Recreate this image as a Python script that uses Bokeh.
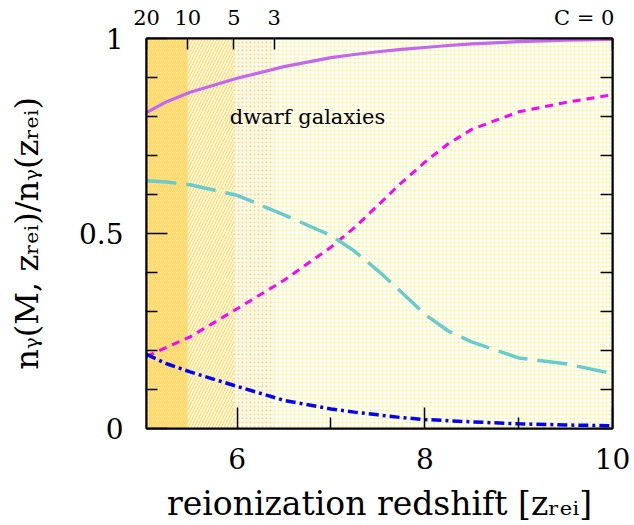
from bokeh.plotting import figure
from bokeh.models import Range1d, LinearAxis, FixedTicker, Label
from bokeh.embed import file_html
from bokeh.resources import INLINE

# ---- data -------------------------------------------------------------
z_rei = [5.035, 5.25, 5.5, 6.0, 6.5, 7.0, 7.25, 7.5, 7.75, 8.0, 8.25, 8.5, 9.0, 9.5, 10.0]
frac_solid = [0.810, 0.838, 0.862, 0.898, 0.928, 0.951, 0.959, 0.966, 0.972, 0.977, 0.982, 0.986, 0.992, 0.996, 0.998]
frac_short = [0.185, 0.208, 0.235, 0.307, 0.380, 0.465, 0.515, 0.572, 0.630, 0.683, 0.730, 0.767, 0.812, 0.836, 0.856]
frac_long = [0.635, 0.632, 0.625, 0.598, 0.548, 0.495, 0.455, 0.405, 0.350, 0.293, 0.250, 0.222, 0.181, 0.166, 0.141]
frac_dotdash = [0.190, 0.166, 0.145, 0.108, 0.072, 0.050, 0.042, 0.035, 0.028, 0.023, 0.020, 0.017, 0.012, 0.009, 0.007]

c_values = ["20", "10", "5", "3", "C = 0"]
c_zrei = [5.035, 5.475, 5.967, 6.395, 10.0]

x_ticks = [6, 8, 10]
x_minor = [5, 7, 9]
y_ticks = [0, 0.5, 1]
y_tick_labels = ["0", "0.5", "1"]
y_minor = [0.1, 0.2, 0.3, 0.4, 0.6, 0.7, 0.8, 0.9]

FONT = "DejaVu Serif"
NBSP = "\u00a0"

p = figure(width=634, height=525,
           x_range=Range1d(c_zrei[0], c_zrei[-1]), y_range=Range1d(0, 1),
           output_backend="svg", toolbar_location=None,
           min_border_left=146, min_border_right=22,
           min_border_top=38, min_border_bottom=97)
p.xgrid.visible = False
p.ygrid.visible = False
p.outline_line_color = "black"
p.outline_line_width = 2
p.background_fill_color = "white"
p.border_fill_color = "white"

# ---- shaded C bands ---------------------------------------------------
band_fill = ["#FFE69C", "#FFF6DC", "#FFFAEC", "#FFFFFF"]
band_hatch = ["right_diagonal_line", "right_diagonal_line", "dot", "dot"]
band_hatch_color = ["#FFD55C", "#FFD860", "#FFD870", "#FFF24D"]
band_hatch_scale = [4, 6, 4, 4]
band_hatch_weight = [1.2, 1.0, 1.0, 1.0]
for i in range(len(c_zrei) - 1):
    p.quad(left=[c_zrei[i]], right=[c_zrei[i + 1]], bottom=[0], top=[1],
           fill_color=band_fill[i], line_color=None,
           hatch_pattern=band_hatch[i], hatch_color=band_hatch_color[i],
           hatch_scale=band_hatch_scale[i], hatch_weight=band_hatch_weight[i])

# ---- curves -----------------------------------------------------------
p.line(z_rei, frac_solid, line_color="#C466F2", line_width=3.2)
p.line(z_rei, frac_short, line_color="#FF00FF", line_width=3, line_dash="8 6")
p.line(z_rei, frac_long, line_color="#66CCCC", line_width=3.5, line_dash="30 10")
p.line(z_rei, frac_dotdash, line_color="#0000FF", line_width=3.5, line_dash="10 4 3 4")

# ---- axes -------------------------------------------------------------
def style_axis(ax, label_size):
    ax.axis_line_color = "black"
    ax.axis_line_width = 2
    ax.major_tick_line_color = "black"
    ax.minor_tick_line_color = "black"
    ax.major_tick_line_width = 1.5
    ax.minor_tick_line_width = 1.5
    ax.major_tick_out = 0
    ax.minor_tick_out = 0
    ax.major_label_text_font = FONT
    ax.major_label_text_font_size = label_size
    ax.major_label_text_color = "black"
    ax.axis_label_text_font = FONT
    ax.axis_label_text_font_style = "normal"
    ax.axis_label_text_color = "black"

xa = p.xaxis[0]
style_axis(xa, "28px")
xa.ticker = FixedTicker(ticks=x_ticks, minor_ticks=x_minor)
xa.major_tick_in = 21
xa.minor_tick_in = 11
xa.major_label_standoff = 19
xa.axis_label = "reionization redshift [zᵣₑᵢ]"
xa.axis_label_text_font_size = "33px"
xa.axis_label_standoff = 12

ya = p.yaxis[0]
style_axis(ya, "28px")
ya.ticker = FixedTicker(ticks=y_ticks, minor_ticks=y_minor)
ya.major_label_overrides = {t: s for t, s in zip(y_ticks, y_tick_labels)}
ya.major_tick_in = 21
ya.minor_tick_in = 11
ya.major_label_standoff = 23
ya.axis_label = "nᵧ(M, zᵣₑᵢ)/nᵧ(zᵣₑᵢ)"
ya.axis_label_text_font_size = "32px"
ya.axis_label_standoff = 30

ra = LinearAxis(ticker=FixedTicker(ticks=y_ticks, minor_ticks=y_minor))
style_axis(ra, "1px")
ra.major_label_overrides = {t: "" for t in y_ticks}
ra.major_tick_in = 12
ra.minor_tick_in = 12
ra.major_label_standoff = 0
p.add_layout(ra, "right")

top_labels = c_values[:-1] + [c_values[-1] + NBSP * 3]
ta = LinearAxis(ticker=FixedTicker(ticks=c_zrei, minor_ticks=[]))
style_axis(ta, "21px")
ta.major_label_overrides = {z: s for z, s in zip(c_zrei, top_labels)}
ta.major_tick_in = 11
ta.major_label_standoff = 9
p.add_layout(ta, "above")

p.add_layout(Label(x=6.75, y=0.80, text="dwarf galaxies", text_align="center",
                   text_baseline="middle", text_font=FONT, text_font_size="21px",
                   text_color="black"))

open("out.html", "w").write(file_html(p, INLINE))
